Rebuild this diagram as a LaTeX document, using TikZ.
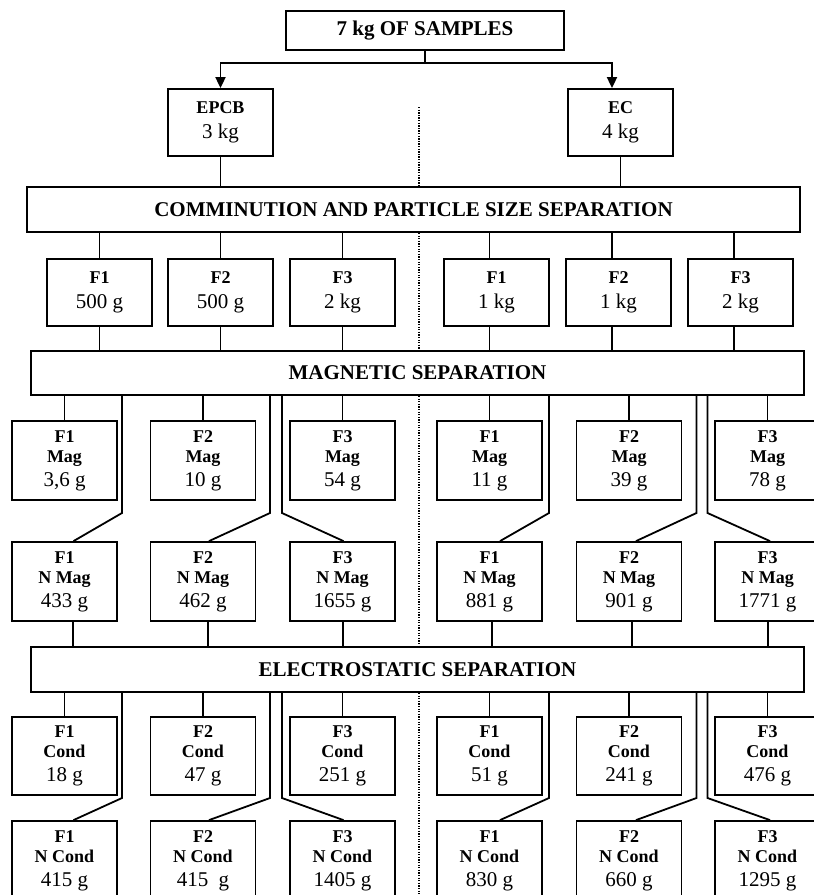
\documentclass[tikz,border=0pt]{standalone}
\usepackage{fontspec}
\setmainfont{Liberation Serif}
\usetikzlibrary{arrows.meta}
\newcommand{\mybl}[1]{{\fontsize{18}{21}\selectfont\bfseries #1}}
\newcommand{\mynum}[1]{{\fontsize{21}{21}\selectfont #1}}
\begin{document}
\begin{tikzpicture}[x=1pt,y=-1pt,line width=1.8pt,
  bx/.style={draw,line width=1.8pt,inner sep=0pt,align=center,minimum width=105pt,minimum height=79pt,font=\fontsize{21}{21}\selectfont},
  fbx/.style={bx,minimum height=67pt},
  hdr/.style={draw,line width=1.8pt,inner sep=0pt,align=center,minimum width=773pt,minimum height=45pt,font=\fontsize{21}{25}\selectfont\bfseries},
  con/.style={line width=1.8pt},
  arr/.style={line width=1.8pt,-{Triangle[length=11pt,width=10pt]}},
  dots/.style={line width=1.3pt,dash pattern=on 1.3pt off 1.3pt}]
\clip (0,0) rectangle (814,895);
\useasboundingbox (0,0) rectangle (814,895);

% top
\node[draw,line width=1.8pt,minimum width=278pt,minimum height=39pt,inner sep=0pt,font=\fontsize{21}{25}\selectfont\bfseries] (top) at (425,30.5) {7 kg OF SAMPLES};
\node[fbx] (epcb) at (220.5,122.5) {\mybl{EPCB}\\[4pt]\mynum{3 kg}};
\node[fbx] (ec) at (620.5,122.5) {\mybl{EC}\\[4pt]\mynum{4 kg}};
\coordinate (split) at (425,63);
\draw[con] (top.south) -- (split);
\draw[arr] (split) -| (epcb.north);
\draw[arr] (split) -| ([xshift=-8.5pt]ec.north);

% headers
\node[hdr] (comm) at (413.5,209.5) {COMMINUTION AND PARTICLE SIZE SEPARATION};
\node[hdr,minimum height=44pt] (magsep) at (417.5,373) {MAGNETIC SEPARATION};
\node[hdr] (esep) at (417.5,669.5) {ELECTROSTATIC SEPARATION};
\draw[con] (epcb.south) -- (epcb.south |- comm.north);
\draw[con] (ec.south) -- (ec.south |- comm.north);

% dotted divider
\coordinate (dtop) at (419,107);
\coordinate (dbot) at (419,895);
\draw[dots] (dtop) -- (dtop |- comm.north);
\draw[dots] (comm.south -| dtop) -- (magsep.north -| dtop);
\draw[dots] (magsep.south -| dtop) -- (esep.north -| dtop);
\draw[dots] (esep.south -| dtop) -- (dbot);

% size fractions
\node[fbx] (fa) at (99.5,292.5) {\mybl{F1}\\[4pt]\mynum{500 g}};
\node[fbx] (fb) at (220.5,292.5) {\mybl{F2}\\[4pt]\mynum{500 g}};
\node[fbx] (fc) at (342.5,292.5) {\mybl{F3}\\[4pt]\mynum{2 kg}};
\node[fbx] (fd) at (496.5,292.5) {\mybl{F1}\\[4pt]\mynum{1 kg}};
\node[fbx] (fe) at (618.5,292.5) {\mybl{F2}\\[4pt]\mynum{1 kg}};
\node[fbx] (ff) at (740.5,292.5) {\mybl{F3}\\[4pt]\mynum{2 kg}};
\foreach \n/\s in {fa/0,fb/0,fc/0,fd/-7,fe/-6.5,ff/-6.5}{
  \draw[con] ([xshift=\s pt]\n.north) -- ([xshift=\s pt]\n.north |- comm.south);
  \draw[con] ([xshift=\s pt]\n.south) -- ([xshift=\s pt]\n.south |- magsep.north);
}

% magnetic products
\node[bx] (ma) at (64.5,460.5) {\mybl{F1}\\[-1pt]\mybl{Mag}\\[3pt]\mynum{3,6 g}};
\node[bx] (mb) at (203,460.5) {\mybl{F2}\\[-1pt]\mybl{Mag}\\[3pt]\mynum{10 g}};
\node[bx] (mc) at (342.5,460.5) {\mybl{F3}\\[-1pt]\mybl{Mag}\\[3pt]\mynum{54 g}};
\node[bx] (md) at (489.5,460.5) {\mybl{F1}\\[-1pt]\mybl{Mag}\\[3pt]\mynum{11 g}};
\node[bx] (me) at (629,460.5) {\mybl{F2}\\[-1pt]\mybl{Mag}\\[3pt]\mynum{39 g}};
\node[bx] (mf) at (767.5,460.5) {\mybl{F3}\\[-1pt]\mybl{Mag}\\[3pt]\mynum{78 g}};

\node[bx] (na) at (64.5,581.5) {\mybl{F1}\\[-1pt]\mybl{N Mag}\\[3pt]\mynum{433 g}};
\node[bx] (nb) at (203,581.5) {\mybl{F2}\\[-1pt]\mybl{N Mag}\\[3pt]\mynum{462 g}};
\node[bx] (nc) at (342.5,581.5) {\mybl{F3}\\[-1pt]\mybl{N Mag}\\[3pt]\mynum{1655 g}};
\node[bx] (nd) at (489.5,581.5) {\mybl{F1}\\[-1pt]\mybl{N Mag}\\[3pt]\mynum{881 g}};
\node[bx] (ne) at (629,581.5) {\mybl{F2}\\[-1pt]\mybl{N Mag}\\[3pt]\mynum{901 g}};
\node[bx] (nf) at (767.5,581.5) {\mybl{F3}\\[-1pt]\mybl{N Mag}\\[3pt]\mynum{1771 g}};

% electrostatic products
\node[bx,minimum height=78pt] (ca) at (64.5,756) {\mybl{F1}\\[-1pt]\mybl{Cond}\\[3pt]\mynum{18 g}};
\node[bx,minimum height=78pt] (cb) at (203,756) {\mybl{F2}\\[-1pt]\mybl{Cond}\\[3pt]\mynum{47 g}};
\node[bx,minimum height=78pt] (cc) at (342.5,756) {\mybl{F3}\\[-1pt]\mybl{Cond}\\[3pt]\mynum{251 g}};
\node[bx,minimum height=78pt] (cd) at (489.5,756) {\mybl{F1}\\[-1pt]\mybl{Cond}\\[3pt]\mynum{51 g}};
\node[bx,minimum height=78pt] (ce) at (629,756) {\mybl{F2}\\[-1pt]\mybl{Cond}\\[3pt]\mynum{241 g}};
\node[bx,minimum height=78pt] (cf) at (767.5,756) {\mybl{F3}\\[-1pt]\mybl{Cond}\\[3pt]\mynum{476 g}};

\node[bx] (ka) at (64.5,860.5) {\mybl{F1}\\[-1pt]\mybl{N Cond}\\[3pt]\mynum{415 g}};
\node[bx] (kb) at (203,860.5) {\mybl{F2}\\[-1pt]\mybl{N Cond}\\[3pt]\mynum{415~ g}};
\node[bx] (kc) at (342.5,860.5) {\mybl{F3}\\[-1pt]\mybl{N Cond}\\[3pt]\mynum{1405 g}};
\node[bx] (kd) at (489.5,860.5) {\mybl{F1}\\[-1pt]\mybl{N Cond}\\[3pt]\mynum{830 g}};
\node[bx] (ke) at (629,860.5) {\mybl{F2}\\[-1pt]\mybl{N Cond}\\[3pt]\mynum{660 g}};
\node[bx] (kf) at (767.5,860.5) {\mybl{F3}\\[-1pt]\mybl{N Cond}\\[3pt]\mynum{1295 g}};

% connectors: separators to products
% \m mag box, \n non-mag box, \c cond box, \k non-cond box, \lx long line x, \ax diagonal end x, \bx connector x below N Mag
\foreach \m/\n/\c/\k/\lx/\ax/\bxx in {ma/na/ca/ka/122/73.5/73, mb/nb/cb/kb/270/209/208, mc/nc/cc/kc/282/343.5/343, md/nd/cd/kd/549/500/492, me/ne/ce/ke/696.5/636/632, mf/nf/cf/kf/707.5/770/768}{
  \draw[con] (\m.north) -- (\m.north |- magsep.south);
  \coordinate (bm) at (\lx,513);
  \draw[con] (magsep.south -| bm) -- (bm) -- (\n.north -| \ax,0);
  \draw[con] (\n.south -| \bxx,0) -- (esep.north -| \bxx,0);
  \draw[con] (\c.north) -- (\c.north |- esep.south);
  \coordinate (bc) at (\lx,798);
  \draw[con] (esep.south -| bc) -- (bc) -- (\k.north -| \ax,0);
}
\end{tikzpicture}
\end{document}
